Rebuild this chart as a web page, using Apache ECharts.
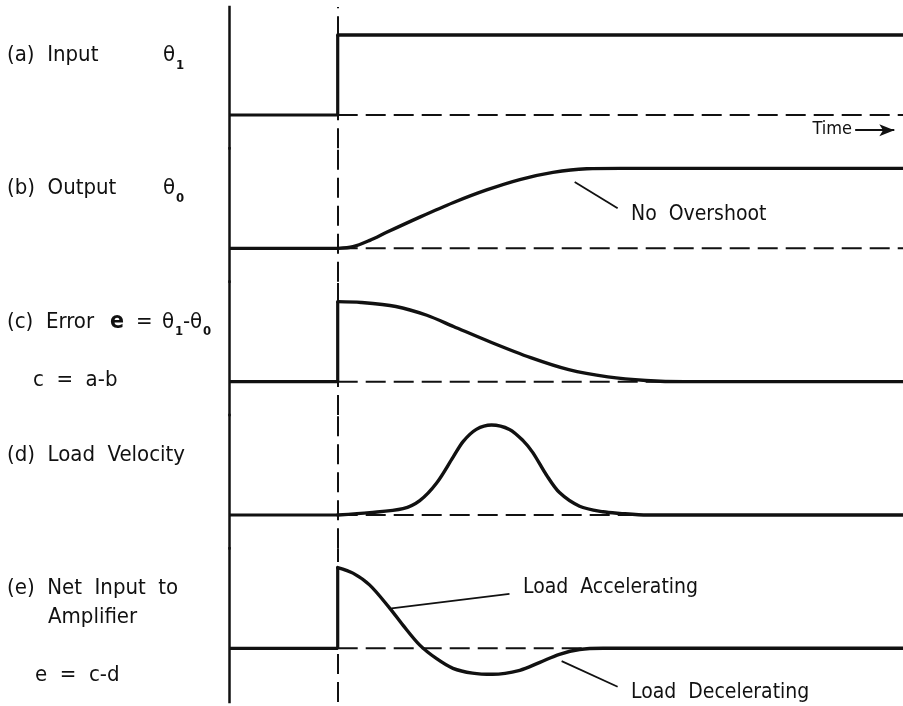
<!DOCTYPE html>
<html>
<head>
<meta charset="utf-8">
<script src="https://cdn.jsdelivr.net/npm/echarts@6/dist/echarts.min.js"></script>
<style>html,body{margin:0;padding:0;background:#fff}#c{width:903px;height:706px}</style>
</head>
<body>
<div id="c"></div>
<script>
// ---- data (time units: step applied at t = 0; amplitude 1 = size of input step) ----
const timeMin = -20;
const timeMax = 104;
const traceNames = ['(a) Input', '(b) Output', '(c) Error', '(d) Load Velocity', '(e) Net Input to Amplifier'];
const preStepA = [[-20, 0], [0, 0], [0, 1]];
const inputCurve = [[0, 1], [104, 1]];
const preStepB = [[-20, 0], [0, 0]];
const outputCurve = [[0, 0], [2.8, 0.02], [5.9, 0.10], [9.0, 0.20], [15.1, 0.39], [21.2, 0.57], [27.4, 0.73], [33.5, 0.86], [39.6, 0.95], [45.8, 0.995], [52, 1.0], [70, 1.0], [104, 1.0]];
const preStepC = [[-20, 0], [0, 0], [0, 1]];
const errorCurve = [[0, 1.0], [4.3, 0.99], [10.7, 0.94], [16.4, 0.83], [21.3, 0.69], [28.3, 0.49], [35.5, 0.30], [42.5, 0.15], [49.7, 0.06], [56.7, 0.015], [63.8, 0], [80, 0], [104, 0]];
const preStepD = [[-20, 0], [0, 0]];
const velocityCurve = [[0, 0], [5.9, 0.03], [12.0, 0.08], [15.1, 0.18], [18.2, 0.40], [21.2, 0.72], [23.1, 0.92], [25.5, 1.07], [28.3, 1.125], [31.6, 1.07], [34.1, 0.93], [35.9, 0.78], [38.4, 0.50], [40.8, 0.28], [44.5, 0.11], [48.8, 0.04], [51.9, 0.02], [57, 0], [75, 0], [104, 0]];
const preStepE = [[-20, 0], [0, 0], [0, 1.01]];
const netInputCurve = [[0, 1.01], [2.8, 0.94], [5.9, 0.79], [9.6, 0.50], [12.0, 0.29], [15.1, 0.04], [18.2, -0.13], [21.2, -0.25], [24.8, -0.31], [28.5, -0.325], [33.5, -0.275], [37.2, -0.175], [40.8, -0.075], [44.5, -0.015], [48.8, 0], [70, 0], [104, 0]];
const zeroLine = [[0, 0], [104, 0]];

// ---- layout ----
const INK = '#111';
const FONT = '"DejaVu Sans Condensed","Liberation Sans Narrow","Liberation Sans",sans-serif';
const gridBoxes = [
  {top: 7, height: 141.33, min: -0.4167, max: 1.35},
  {top: 148.33, height: 133.33, min: -0.4167, max: 1.25},
  {top: 281.67, height: 133.33, min: -0.4167, max: 1.25},
  {top: 415, height: 133.33, min: -0.4167, max: 1.25},
  {top: 548.33, height: 153.67, min: -0.671, max: 1.25}
];
const pre = [preStepA, preStepB, preStepC, preStepD, preStepE];
const curves = [inputCurve, outputCurve, errorCurve, velocityCurve, netInputCurve];
const pointers = {
  0: [[[95.2, -0.19], [102.4, -0.19], true]],
  1: [[[43.6, 0.83], [51.5, 0.50], false]],
  4: [[[9.9, 0.50], [31.6, 0.68], false], [[41.2, -0.16], [51.5, -0.48], false]]
};

const grid = [], xAxis = [], yAxis = [], series = [];
gridBoxes.forEach((g, i) => {
  grid.push({left: 229, right: 0, top: g.top, height: g.height});
  xAxis.push({type: 'value', gridIndex: i, min: timeMin, max: timeMax, show: false});
  yAxis.push({type: 'value', gridIndex: i, min: g.min, max: g.max,
    axisLine: {show: true, onZero: false, lineStyle: {color: INK, width: 2.5, cap: 'square'}},
    axisTick: {show: false}, axisLabel: {show: false}, splitLine: {show: false}});
  series.push({
    type: 'line', name: traceNames[i] + ' zero', xAxisIndex: i, yAxisIndex: i, data: zeroLine,
    showSymbol: false, silent: true, z: 1,
    lineStyle: {color: INK, width: 2, type: [20, 8]},
    markLine: {silent: true, symbol: 'none', label: {show: false}, animation: false,
      lineStyle: {color: INK, width: 2, type: [20, 8]}, data: [{xAxis: 0}]}
  });
  series.push({
    type: 'line', name: traceNames[i] + ' step', xAxisIndex: i, yAxisIndex: i, data: pre[i],
    showSymbol: false, silent: true, z: 3, lineStyle: {color: INK, width: 3.2}
  });
  const cs = {
    type: 'line', name: traceNames[i], xAxisIndex: i, yAxisIndex: i, data: curves[i],
    showSymbol: false, silent: true, z: 3, smooth: i === 0 ? false : 0.3,
    lineStyle: {color: INK, width: 3.4, cap: 'round', join: 'round'}
  };
  if (pointers[i]) {
    cs.markLine = {silent: true, animation: false, label: {show: false},
      data: pointers[i].map(p => [
        {coord: p[0], symbol: 'none'},
        {coord: p[1], symbol: p[2] ? 'arrow' : 'none', symbolSize: [9, 15]}
      ]),
      lineStyle: {color: INK, width: 1.8, type: 'solid'}};
  }
  series.push(cs);
});

const labels = [
  ['(a)  Input', 7, 55, 22, 'normal'], ['θ', 163, 55, 22, 'normal'], ['1', 176, 66, 13, 'bold'],
  ['(b)  Output', 7, 188, 22, 'normal'], ['θ', 163, 188, 22, 'normal'], ['0', 176, 199, 13, 'bold'],
  ['(c)  Error', 7, 322, 22, 'normal'], ['e', 110, 322, 23, 'bold'], ['=', 136, 322, 22, 'normal'],
  ['θ', 162, 322, 22, 'normal'], ['1', 175, 332, 13, 'bold'], ['-', 183, 322, 22, 'normal'],
  ['θ', 190, 322, 22, 'normal'], ['0', 203, 332, 13, 'bold'],
  ['c  =  a-b', 33, 380, 22, 'normal'],
  ['(d)  Load  Velocity', 7, 455, 22, 'normal'],
  ['(e)  Net  Input  to', 7, 588, 22, 'normal'],
  ['Amplifier', 48, 617, 22, 'normal'],
  ['e  =  c-d', 35, 675, 22, 'normal'],
  ['No  Overshoot', 631, 215, 21, 'normal'],
  ['Load  Accelerating', 523, 588, 21, 'normal'],
  ['Load  Decelerating', 631, 693, 21, 'normal']
];
const graphic = labels.map(l => ({
  type: 'text', x: l[1], y: l[2], silent: true,
  style: {text: l[0], fill: INK, font: l[4] + ' ' + l[3] + 'px ' + FONT,
    textAlign: 'left', textVerticalAlign: 'middle', align: 'left', verticalAlign: 'middle'}
}));
graphic.push({type: 'text', x: 852, y: 129, silent: true,
  style: {text: 'Time', fill: INK, font: 'normal 18px ' + FONT,
    textAlign: 'right', textVerticalAlign: 'middle', align: 'right', verticalAlign: 'middle'}});

const chart = echarts.init(document.getElementById('c'), null, {renderer: 'canvas'});
chart.setOption({backgroundColor: '#fff', animation: false, grid, xAxis, yAxis, series, graphic});
</script>
</body>
</html>
